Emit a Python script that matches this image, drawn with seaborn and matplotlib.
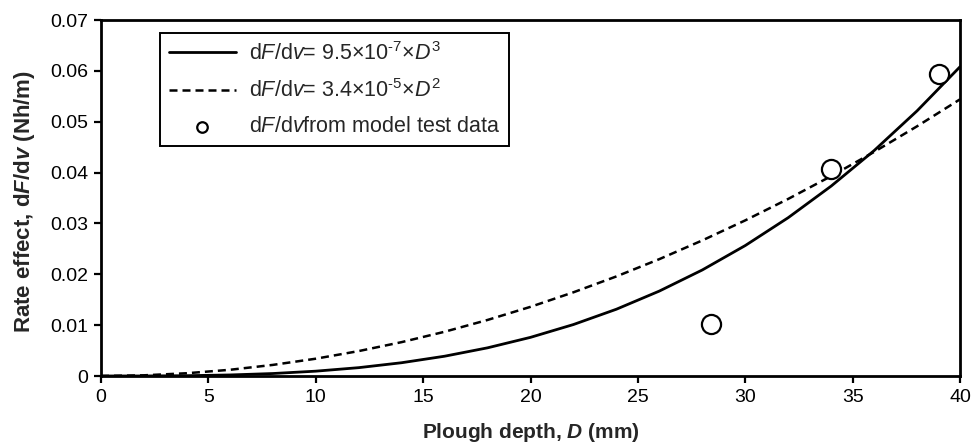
import matplotlib
matplotlib.use("Agg")
import matplotlib.pyplot as plt
import seaborn as sns
import pandas as pd

# values every 2 mm
depth = [0, 2, 4, 6, 8, 10, 12, 14, 16, 18, 20, 22, 24, 26, 28, 30, 32, 34, 36, 38, 40]
cubic_fit = [0.0, 0.0000076, 0.0000608, 0.000205, 0.000486, 0.00095, 0.00164, 0.00261,
             0.00389, 0.00554, 0.0076, 0.01012, 0.01313, 0.01670, 0.02085, 0.02565,
             0.03113, 0.03734, 0.04432, 0.05213, 0.0608]
square_fit = [0.0, 0.000136, 0.000544, 0.00122, 0.00218, 0.0034, 0.0049, 0.00666,
              0.0087, 0.01102, 0.0136, 0.01646, 0.01958, 0.02298, 0.02666, 0.0306,
              0.03482, 0.0393, 0.04406, 0.0491, 0.0544]

# model test data
test_depth = [28.4, 34.0, 39.0]
test_rate = [0.0103, 0.0407, 0.0594]

label_cubic = r"d$\mathit{F}$/d$\mathit{v}$= 9.5×10$^{‐7}$×$\mathit{D}^{3}$"
label_square = r"d$\mathit{F}$/d$\mathit{v}$= 3.4×10$^{‐5}$×$\mathit{D}^{2}$"
label_test = r"d$\mathit{F}$/d$\mathit{v}$from model test data"

sns.set_theme(style="ticks")
plt.rcParams["font.family"] = ["Liberation Sans", "DejaVu Sans"]
plt.rcParams["mathtext.fontset"] = "custom"
plt.rcParams["mathtext.rm"] = "Liberation Sans"
plt.rcParams["mathtext.it"] = "Liberation Sans:italic"
plt.rcParams["mathtext.bf"] = "Liberation Sans:bold"
plt.rcParams["mathtext.bfit"] = "Liberation Sans:italic:bold"

curves = pd.DataFrame({"D": depth, "cubic": cubic_fit, "square": square_fit})
tests = pd.DataFrame({"D": test_depth, "rate": test_rate})

fig = plt.figure(figsize=(9.72, 4.48), dpi=100)
ax = fig.add_axes([101 / 972, 72 / 448, 859 / 972, 356 / 448])

sns.lineplot(data=curves, x="D", y="cubic", ax=ax, color="black", lw=2.0,
             label=label_cubic)
sns.lineplot(data=curves, x="D", y="square", ax=ax, color="black", lw=1.8,
             linestyle=(0, (3.2, 2.0)), label=label_square)
sns.scatterplot(data=tests, x="D", y="rate", ax=ax, marker="o", s=190,
                facecolor="white", edgecolor="black", linewidth=1.6,
                label=label_test, zorder=5)

ax.set_xlim(0, 40)
ax.set_ylim(0, 0.07)
ax.set_xticks(range(0, 45, 5))
ax.set_yticks([0, 0.01, 0.02, 0.03, 0.04, 0.05, 0.06, 0.07])
ax.set_yticklabels(["0", "0.01", "0.02", "0.03", "0.04", "0.05", "0.06", "0.07"])
ax.tick_params(axis="both", labelsize=14, direction="out", length=5, width=1.6,
               color="black", labelcolor="black", pad=4)
for sp in ax.spines.values():
    sp.set_linewidth(2.0)
    sp.set_color("black")

ax.set_xlabel(r"Plough depth, $\mathbfit{D}$ (mm)", fontsize=15, fontweight="bold")
ax.set_ylabel(r"Rate effect, d$\mathbfit{F}$/d$\mathbfit{v}$ (Nh/m)", fontsize=16,
              fontweight="bold")
ax.xaxis.set_label_coords(0.5, -0.125)
ax.yaxis.set_label_coords(-0.075, 0.49)

leg = ax.legend(loc="upper left", bbox_to_anchor=(0.0687, 0.9635), borderaxespad=0,
                fontsize=15.5, frameon=True, fancybox=False, handlelength=3.1,
                handletextpad=0.6, labelspacing=0.66, borderpad=0.42,
                markerscale=0.55)
leg.get_frame().set_edgecolor("black")
leg.get_frame().set_linewidth(1.4)
leg.get_frame().set_alpha(1)

fig.savefig("out.png", dpi=100)
